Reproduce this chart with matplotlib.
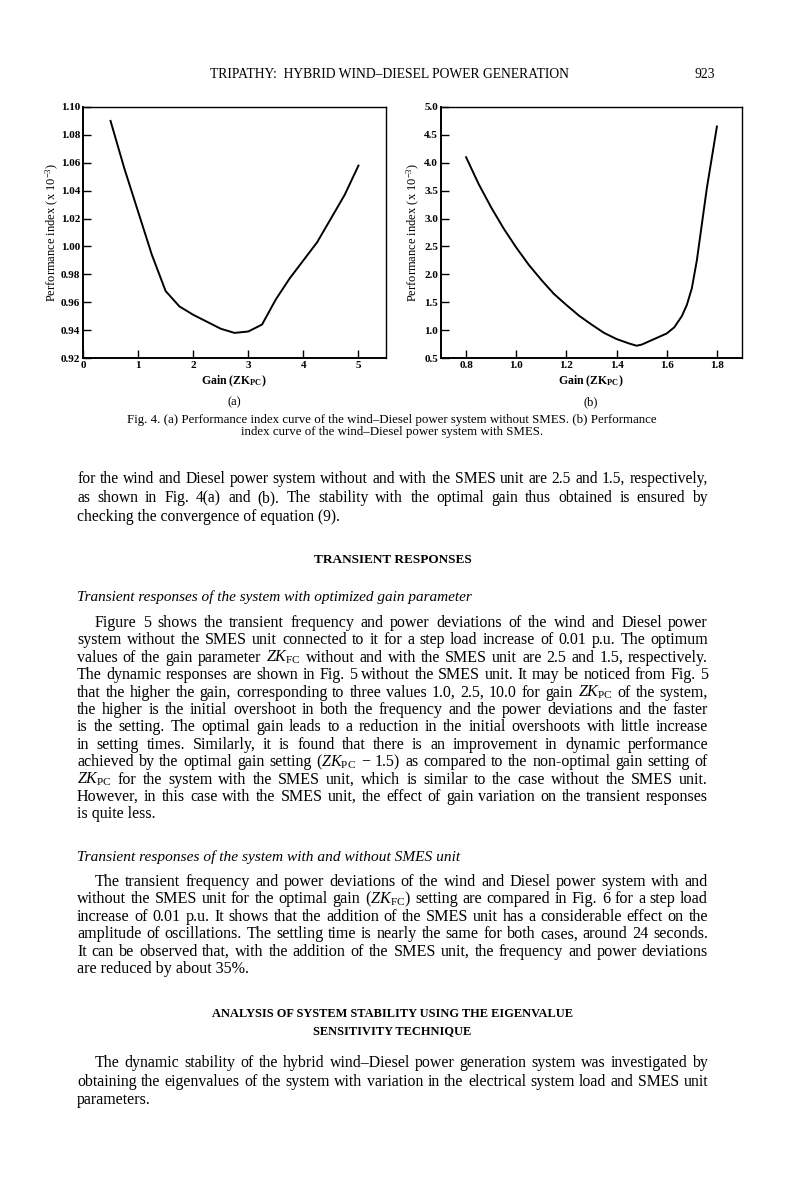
import matplotlib
matplotlib.use('Agg')
import matplotlib.pyplot as plt

plt.rcParams['font.family'] = ['Liberation Serif', 'DejaVu Serif']
plt.rcParams['mathtext.fontset'] = 'custom'
plt.rcParams['mathtext.rm'] = 'Liberation Serif'
plt.rcParams['mathtext.it'] = 'Liberation Serif:italic'
plt.rcParams['mathtext.bf'] = 'Liberation Serif:bold'

# ---------------- data ----------------
gain_a = [0.5, 0.75, 1.0, 1.25, 1.5, 1.75, 2.0, 2.25, 2.5, 2.75, 3.0, 3.25, 3.5,
          3.75, 4.0, 4.25, 4.5, 4.75, 5.0]
index_a = [1.090, 1.056, 1.025, 0.994, 0.968, 0.957, 0.951, 0.946, 0.941, 0.938,
           0.939, 0.944, 0.962, 0.977, 0.990, 1.003, 1.020, 1.037, 1.058]

gain_b = [0.80, 0.85, 0.90, 0.95, 1.00, 1.05, 1.10, 1.15, 1.20, 1.25, 1.30, 1.35,
          1.40, 1.45, 1.48, 1.50, 1.55, 1.60, 1.63, 1.66, 1.68, 1.70, 1.72, 1.74,
          1.76, 1.78, 1.80]
index_b = [4.10, 3.62, 3.20, 2.82, 2.48, 2.17, 1.90, 1.65, 1.45, 1.26, 1.10, 0.95,
           0.84, 0.76, 0.72, 0.74, 0.84, 0.94, 1.05, 1.25, 1.45, 1.75, 2.25, 2.90,
           3.55, 4.10, 4.65]

xticks_a = [0, 1, 2, 3, 4, 5]
yticks_a = [0.92, 0.94, 0.96, 0.98, 1.00, 1.02, 1.04, 1.06, 1.08, 1.10]
xticks_b = [0.8, 1.0, 1.2, 1.4, 1.6, 1.8]
yticks_b = [0.5, 1.0, 1.5, 2.0, 2.5, 3.0, 3.5, 4.0, 4.5, 5.0]

header_text = "TRIPATHY:  HYBRID WIND\u2013DIESEL POWER GENERATION"
page_number = "923"
ylabel_text = "Performance index (x 10$^{-3}$)"
xlabel_text = r"Gain (ZK$_{\mathbf{PC}}$)"
caption_lines = [
    "Fig. 4. (a) Performance index curve of the wind\u2013Diesel power system without SMES. (b) Performance",
    "index curve of the wind\u2013Diesel power system with SMES.",
]
ZK_PC = r"$ZK_{\mathrm{PC}}$"
ZK_FC = r"$ZK_{\mathrm{FC}}$"
para1 = [
    "for the wind and Diesel power system without and with the SMES unit are 2.5 and 1.5, respectively,",
    "as shown in Fig. 4(a) and (b). The stability with the optimal gain thus obtained is ensured by",
    "checking the convergence of equation (9).",
]
heading1 = "TRANSIENT RESPONSES"
sub1 = "Transient responses of the system with optimized gain parameter"
para2 = [
    "Figure 5 shows the transient frequency and power deviations of the wind and Diesel power",
    "system without the SMES unit connected to it for a step load increase of 0.01 p.u. The optimum",
    "values of the gain parameter " + ZK_FC + " without and with the SMES unit are 2.5 and 1.5, respectively.",
    "The dynamic responses are shown in Fig. 5 without the SMES unit. It may be noticed from Fig. 5",
    "that the higher the gain, corresponding to three values 1.0, 2.5, 10.0 for gain " + ZK_PC + " of the system,",
    "the higher is the initial overshoot in both the frequency and the power deviations and the faster",
    "is the setting. The optimal gain leads to a reduction in the initial overshoots with little increase",
    "in setting times. Similarly, it is found that there is an improvement in dynamic performance",
    "achieved by the optimal gain setting (" + ZK_PC + " \u2212 1.5) as compared to the non-optimal gain setting of",
    ZK_PC + " for the system with the SMES unit, which is similar to the case without the SMES unit.",
    "However, in this case with the SMES unit, the effect of gain variation on the transient responses",
    "is quite less.",
]
sub2 = "Transient responses of the system with and without SMES unit"
para3 = [
    "The transient frequency and power deviations of the wind and Diesel power system with and",
    "without the SMES unit for the optimal gain (" + ZK_FC + ") setting are compared in Fig. 6 for a step load",
    "increase of 0.01 p.u. It shows that the addition of the SMES unit has a considerable effect on the",
    "amplitude of oscillations. The settling time is nearly the same for both cases, around 24 seconds.",
    "It can be observed that, with the addition of the SMES unit, the frequency and power deviations",
    "are reduced by about 35%.",
]
heading2 = ["ANALYSIS OF SYSTEM STABILITY USING THE EIGENVALUE", "SENSITIVITY TECHNIQUE"]
para4 = [
    "The dynamic stability of the hybrid wind\u2013Diesel power generation system was investigated by",
    "obtaining the eigenvalues of the system with variation in the electrical system load and SMES unit",
    "parameters.",
]

# ---------------- figure ----------------
W, H = 800, 1188
fig = plt.figure(figsize=(8, 11.88), dpi=100)
fig.patch.set_facecolor('white')
renderer = fig.canvas.get_renderer()

TX0, TX1 = 77, 708   # text block
TXC = (TX0 + TX1) / 2


def fx(px):
    return px / W


def fy(py):
    return 1 - py / H


def width_of(s, **kw):
    t = fig.text(0, 0, s, **kw)
    w = t.get_window_extent(renderer).width
    t.remove()
    return w


def fit_size(s, target, **kw):
    w = width_of(s, fontsize=10, **kw)
    return 10 * target / w


def make_axes(x0, x1, y0, y1):
    return fig.add_axes([fx(x0), fy(y1), (x1 - x0) / W, (y1 - y0) / H])


def style_axes(ax):
    for side in ['left', 'bottom']:
        ax.spines[side].set_linewidth(1.4)
    for side in ['top', 'right']:
        ax.spines[side].set_linewidth(1.0)
    ax.tick_params(direction='in', length=6, width=1.0, pad=2, labelsize=8,
                   top=False, right=False)
    for lab in ax.get_xticklabels() + ax.get_yticklabels():
        lab.set_fontweight('bold')


axA = make_axes(83, 386, 107, 358)
axA.plot(gain_a, index_a, color='black', lw=1.4)
axA.set_xlim(0, 5.5)
axA.set_ylim(0.92, 1.10)
axA.set_xticks(xticks_a)
axA.set_xticklabels([str(v) for v in xticks_a])
axA.set_yticks(yticks_a)
axA.set_yticklabels(["%.2f" % v for v in yticks_a])
style_axes(axA)

axB = make_axes(441, 742, 107, 358)
axB.plot(gain_b, index_b, color='black', lw=1.4)
axB.set_xlim(0.7, 1.9)
axB.set_ylim(0.5, 5.0)
axB.set_xticks(xticks_b)
axB.set_xticklabels(["%.1f" % v for v in xticks_b])
axB.set_yticks(yticks_b)
axB.set_yticklabels(["%.1f" % v for v in yticks_b])
style_axes(axB)

# axis labels
fig.text(fx(52), fy(232), ylabel_text, rotation=90, ha='center', va='center', fontsize=9)
fig.text(fx(413), fy(232), ylabel_text, rotation=90, ha='center', va='center', fontsize=9)
fig.text(fx(234), fy(381), xlabel_text, ha='center', va='center', fontsize=8.5, fontweight='bold')
fig.text(fx(591), fy(381), xlabel_text, ha='center', va='center', fontsize=8.5, fontweight='bold')
fig.text(fx(234), fy(402), "(a)", ha='center', va='center', fontsize=9)
fig.text(fx(591), fy(402), "(b)", ha='center', va='center', fontsize=9)

# header
hs = fit_size(header_text, 360)
fig.text(fx(210), fy(75), header_text, ha='left', va='center', fontsize=hs)
fig.text(fx(715), fy(75), page_number, ha='right', va='center', fontsize=hs)

# caption
cs = fit_size(caption_lines[0], 530)
fig.text(fx(392), fy(420), caption_lines[0], ha='center', va='center', fontsize=cs)
fig.text(fx(392), fy(432), caption_lines[1], ha='center', va='center', fontsize=cs)


def line_out(s, y, x0, x1, justify=True, **kw):
    yb = fy(y + 4)
    if not justify:
        fig.text(fx(x0), yb, s, va='baseline', ha='left', **kw)
        return
    words = s.split(' ')
    widths = [width_of(w, **kw) for w in words]
    gap = (x1 - x0 - sum(widths)) / (len(words) - 1)
    x = x0
    for w, wd in zip(words, widths):
        fig.text(fx(x), yb, w, va='baseline', ha='left', **kw)
        x += wd + gap


def paragraph(lines, y0, dy, indent=18, shrink=0.99):
    # font size chosen so that the longest full line just fits the text block
    ratios = []
    for i, s in enumerate(lines[:-1]):
        x0 = TX0 + (indent if i == 0 else 0)
        ratios.append((TX1 - x0) / width_of(s, fontsize=10))
    size = 10 * min(ratios) * shrink
    for i, s in enumerate(lines):
        last = (i == len(lines) - 1)
        x0 = TX0 + (indent if i == 0 else 0)
        line_out(s, y0 + i * dy, x0, TX1, justify=not last, fontsize=size)
    return size


paragraph(para1, 479, 19, indent=0)
fig.text(fx(TXC), fy(560), heading1, ha='center', va='center',
         fontsize=fit_size(heading1, 158, fontweight='bold'), fontweight='bold')
sub_y1 = 597
body2 = paragraph(para2, 623, 17.4)
fig.text(fx(TX0), fy(sub_y1), sub1, ha='left', va='center',
         fontsize=body2 * 0.95, style='italic')
body3 = paragraph(para3, 882, 17.4)
fig.text(fx(TX0), fy(857), sub2, ha='left', va='center',
         fontsize=body3 * 0.95, style='italic')
h2s = fit_size(heading2[0], 360, fontweight='bold')
fig.text(fx(TXC), fy(1014), heading2[0], ha='center', va='center', fontsize=h2s, fontweight='bold')
fig.text(fx(TXC), fy(1031), heading2[1], ha='center', va='center', fontsize=h2s, fontweight='bold')
paragraph(para4, 1063, 18.5)

fig.savefig('out.png', dpi=100, facecolor='white')
